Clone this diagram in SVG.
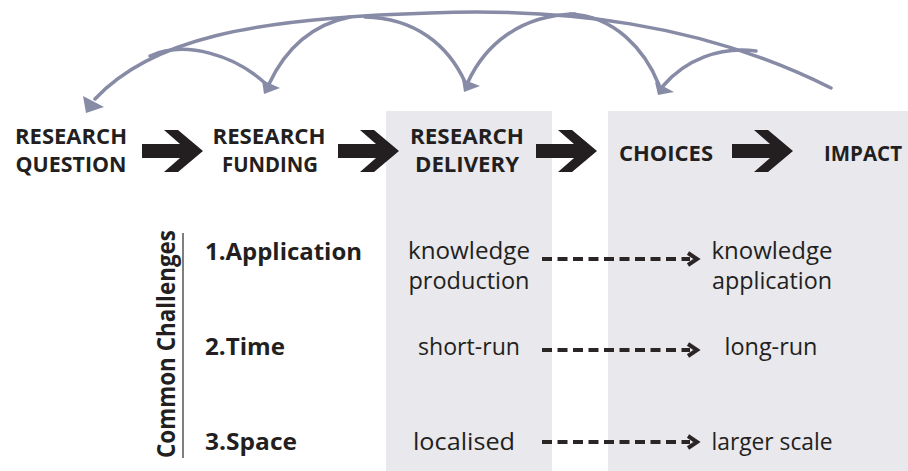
<svg xmlns="http://www.w3.org/2000/svg" width="908" height="471" viewBox="0 0 908 471">
<defs>
<style>
.bg{fill:#ffffff}
.panel{fill:#e8e8ed}
.h{font-family:"Open Sans","Liberation Sans",sans-serif;font-weight:bold;font-size:22px;fill:#231f20;text-anchor:middle}
.b{font-family:"Open Sans","Liberation Sans",sans-serif;font-weight:bold;font-size:23px;fill:#231f20}
.r{font-family:"Open Sans","Liberation Sans",sans-serif;font-size:23px;fill:#231f20;text-anchor:middle}
.arc{fill:none;stroke:#878ba5;stroke-width:3.5;stroke-linecap:round}
.head{fill:#878ba5}
.chev{fill:#231f20}
.dash{fill:none;stroke:#2b2526;stroke-width:4;stroke-dasharray:10 5.5}
.tip{fill:none;stroke:#2b2526;stroke-width:4;stroke-linejoin:miter}
</style>
<polygon id="bigArrow" points="0,14 38,14 22,0 36,0 61,21 36,42 22,42 38,28 0,28"/>
</defs>
<rect class="bg" x="0" y="0" width="908" height="471"/>
<g id="panels">
<rect class="panel" x="386" y="111" width="166" height="360"/>
<rect class="panel" x="608" y="111" width="300" height="360"/>
</g>
<g id="connectors">
<path class="arc" d="M831,88 C700,22 560,8 430,13 C250,18 150,40 95,99"/>
<polygon class="head" points="86,113 83,96 104,107"/>
<path class="arc" d="M150,56 C185,40 235,55 266,84"/>
<path class="arc" d="M350,17 C310,25 285,50 269,84"/>
<polygon class="head" points="264,94 262,80 280,88"/>
<path class="arc" d="M365,17 C415,18 448,45 465,82"/>
<path class="arc" d="M575,14 C520,15 485,45 468,82"/>
<polygon class="head" points="464,92 462,79 480,86"/>
<path class="arc" d="M570,14 C615,16 645,50 659,85"/>
<path class="arc" d="M756,51 C720,46 685,60 663,86"/>
<polygon class="head" points="658,95 655,82 674,92"/>
<use href="#bigArrow" class="chev" x="142" y="130"/>
<use href="#bigArrow" class="chev" x="338" y="130"/>
<use href="#bigArrow" class="chev" x="536" y="130"/>
<use href="#bigArrow" class="chev" x="732" y="130"/>
<line class="dash" x1="542" y1="259" x2="690" y2="259"/>
<polyline class="tip" points="688,253 697,259 688,265"/>
<line class="dash" x1="542" y1="350" x2="690" y2="350"/>
<polyline class="tip" points="688,344 697,350 688,356"/>
<line class="dash" x1="542" y1="442" x2="690" y2="442"/>
<polyline class="tip" points="688,436 697,442 688,448"/>
</g>
<g id="node-question">
<text class="h" x="71" y="144" textLength="112" lengthAdjust="spacingAndGlyphs">RESEARCH</text>
<text class="h" x="71" y="172" textLength="111" lengthAdjust="spacingAndGlyphs">QUESTION</text>
</g>
<g id="node-funding">
<text class="h" x="269" y="144" textLength="113" lengthAdjust="spacingAndGlyphs">RESEARCH</text>
<text class="h" x="270" y="172" textLength="96" lengthAdjust="spacingAndGlyphs">FUNDING</text>
</g>
<g id="node-delivery">
<text class="h" x="467" y="144" textLength="114" lengthAdjust="spacingAndGlyphs">RESEARCH</text>
<text class="h" x="467" y="172" textLength="104" lengthAdjust="spacingAndGlyphs">DELIVERY</text>
</g>
<g id="node-choices">
<text class="h" x="666" y="161" textLength="94" lengthAdjust="spacingAndGlyphs">CHOICES</text>
</g>
<g id="node-impact">
<text class="h" x="863" y="161" textLength="78" lengthAdjust="spacingAndGlyphs">IMPACT</text>
</g>
<g id="challenges">
<text class="b" style="font-size:25px" transform="translate(175,344) rotate(-90)" text-anchor="middle" textLength="228" lengthAdjust="spacingAndGlyphs">Common Challenges</text>
<line x1="183" y1="233" x2="183" y2="458" stroke="#555555" stroke-width="1.5"/>
<text class="b" x="205" y="260" textLength="157" lengthAdjust="spacingAndGlyphs">1.Application</text>
<text class="b" x="205" y="355" textLength="80" lengthAdjust="spacingAndGlyphs">2.Time</text>
<text class="b" x="205" y="450" textLength="92" lengthAdjust="spacingAndGlyphs">3.Space</text>
</g>
<g id="row-application">
<text class="r" x="469" y="259" textLength="122" lengthAdjust="spacingAndGlyphs">knowledge</text>
<text class="r" x="469" y="289" textLength="121" lengthAdjust="spacingAndGlyphs">production</text>
<text class="r" x="772" y="259" textLength="121" lengthAdjust="spacingAndGlyphs">knowledge</text>
<text class="r" x="772" y="289" textLength="120" lengthAdjust="spacingAndGlyphs">application</text>
</g>
<g id="row-time">
<text class="r" x="469" y="355" textLength="102" lengthAdjust="spacingAndGlyphs">short-run</text>
<text class="r" x="771" y="355" textLength="93" lengthAdjust="spacingAndGlyphs">long-run</text>
</g>
<g id="row-space">
<text class="r" x="464" y="450" textLength="102" lengthAdjust="spacingAndGlyphs">localised</text>
<text class="r" x="772" y="450" textLength="121" lengthAdjust="spacingAndGlyphs">larger scale</text>
</g>
</svg>
